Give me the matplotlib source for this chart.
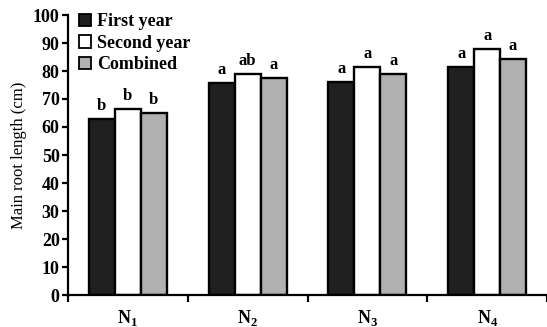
import matplotlib
matplotlib.use("Agg")
import matplotlib.pyplot as plt
import numpy as np

plt.rcParams['font.family'] = 'serif'
plt.rcParams['font.serif'] = ['Liberation Serif', 'DejaVu Serif']
plt.rcParams['mathtext.fontset'] = 'custom'
plt.rcParams['mathtext.rm'] = 'Liberation Serif'
plt.rcParams['mathtext.bf'] = 'Liberation Serif:bold'

# Treatments and main root length (cm)
treatments = [r'$\mathbf{N}_{\mathbf{1}}$', r'$\mathbf{N}_{\mathbf{2}}$',
              r'$\mathbf{N}_{\mathbf{3}}$', r'$\mathbf{N}_{\mathbf{4}}$']
series_names = ['First year', 'Second year', 'Combined']
first_year = [63.0, 75.8, 76.2, 81.3]
second_year = [66.5, 78.8, 81.5, 88.0]
combined = [65.0, 77.5, 79.0, 84.3]
letters_first = ['b', 'a', 'a', 'a']
letters_second = ['b', 'ab', 'a', 'a']
letters_combined = ['b', 'a', 'a', 'a']

colors = ['#202020', '#ffffff', '#b0b0b0']

fig = plt.figure(figsize=(5.47, 3.27), dpi=100)
ax = fig.add_axes([68 / 547, 32 / 327, 479 / 547, 280 / 327])

x = np.arange(len(treatments))
width = 0.217
series = [first_year, second_year, combined]
letters = [letters_first, letters_second, letters_combined]
for i, (vals, lets, col, name) in enumerate(zip(series, letters, colors, series_names)):
    pos = x + (i - 1) * width
    ax.bar(pos, vals, width, color=col, edgecolor='black', linewidth=1.7,
           label=name, zorder=2)
    for p, v, t in zip(pos, vals, lets):
        ax.text(p, v + 1.8, t, ha='center', va='bottom', fontsize=12,
                fontweight='bold')

ax.set_xlim(-0.5, 3.5)
ax.set_ylim(0, 100)
ax.set_yticks(np.arange(0, 101, 10))
ax.set_xticks(np.arange(-0.5, 3.6, 1.0))
ax.set_xticklabels([])
ax.set_xticks(x, minor=True)
ax.set_xticklabels(treatments, minor=True, fontsize=13)
ax.tick_params(axis='x', which='minor', length=0, pad=9)
ax.tick_params(axis='x', which='major', length=5, width=1.6, direction='out')
ax.tick_params(axis='y', length=4, width=1.6, direction='out', pad=2)
for lab in ax.get_yticklabels():
    lab.set_fontweight('bold')
    lab.set_fontsize(13)

for s in ['top', 'right']:
    ax.spines[s].set_visible(False)
for s in ['left', 'bottom']:
    ax.spines[s].set_linewidth(1.6)

ax.set_ylabel('Main root length (cm)', fontsize=12, labelpad=4)

leg = ax.legend(loc='upper left', bbox_to_anchor=(0.0, 1.045), frameon=False,
                prop={'weight': 'bold', 'size': 13}, handlelength=0.7,
                handleheight=0.7, handletextpad=0.3, labelspacing=0.25,
                borderaxespad=0.2)
for h in leg.legend_handles:
    h.set_linewidth(1.3)

fig.savefig('out.png', dpi=100)
